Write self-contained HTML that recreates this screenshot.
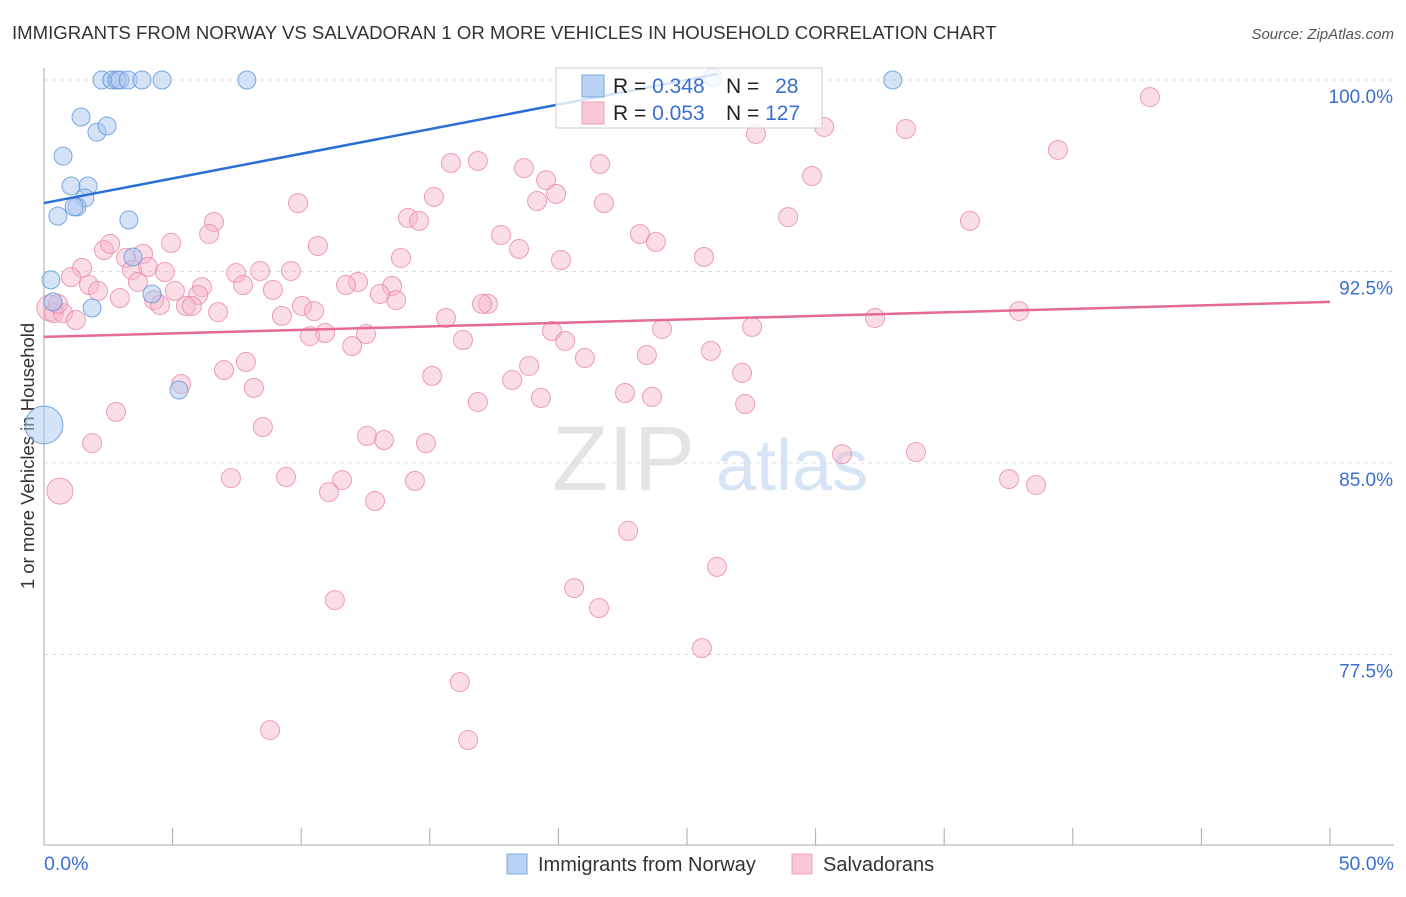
<!DOCTYPE html>
<html><head><meta charset="utf-8"><style>
body{margin:0;background:#fff;font-family:"Liberation Sans",sans-serif;}
svg text{font-family:"Liberation Sans",sans-serif;}
</style></head><body>
<svg id="chart" width="1406" height="892">
<text x="12" y="39" font-size="18.6" fill="#333">IMMIGRANTS FROM NORWAY VS SALVADORAN 1 OR MORE VEHICLES IN HOUSEHOLD CORRELATION CHART</text>
<text x="1394" y="39" font-size="15" fill="#555" font-style="italic" text-anchor="end">Source: ZipAtlas.com</text>
<g>
<text x="552" y="490" font-size="92" fill="#e4e4e4" font-family="Liberation Serif">ZIP</text>
<text x="716" y="490" font-size="72" fill="#d6e4f5">atlas</text>
</g>
<g id="grid"></g>
<g id="axes"></g>
<g id="marks"></g>
<g id="legend-top">
<rect x="556" y="68" width="266" height="60" fill="#fff" fill-opacity="0.8" stroke="#ccc"/>
<rect x="582" y="75" width="22" height="22" fill="#b9d3f5" stroke="#7aa7e0"/>
<text x="613" y="93" font-size="21" fill="#222">R = <tspan fill="#3a6fd0">0.348</tspan></text>
<text x="726" y="93" font-size="21" fill="#222">N = <tspan fill="#3a6fd0" dx="10">28</tspan></text>
<rect x="582" y="102" width="22" height="22" fill="#f9c7d6" stroke="#eda0b8"/>
<text x="613" y="120" font-size="21" fill="#222">R = <tspan fill="#3a6fd0">0.053</tspan></text>
<text x="726" y="120" font-size="21" fill="#222">N = <tspan fill="#3a6fd0">127</tspan></text>
</g>
<g>
<rect x="507" y="854" width="20" height="20" fill="#b9d3f5" stroke="#7aa7e0"/>
<text x="538" y="871" font-size="20" fill="#333">Immigrants from Norway</text>
<rect x="792" y="854" width="20" height="20" fill="#f9c7d6" stroke="#eda0b8"/>
<text x="823" y="871" font-size="20" fill="#333">Salvadorans</text>
</g>
</svg>
<script>
const xTicks=[0,5,10,15,20,25,30,35,40,45,50];
const yTicks=[77.5,85,92.5,100];
const yTickLabels=["77.5%","85.0%","92.5%","100.0%"];
const xEndLabels=["0.0%","50.0%"];
const norwayX=[2.25,2.64,2.84,2.95,3.27,3.81,4.59,7.89,33.0,26.0,1.44,2.06,2.45,0.74,1.05,1.71,1.59,1.28,1.17,0.54,3.30,3.46,4.20,0.27,0.35,1.87,5.25,0];
const norwayY=[100,100,100,100,100,100,100,100,100,100.1,98.55,97.96,98.2,97.02,95.85,95.85,95.38,95.03,95.03,94.67,94.52,93.07,91.62,92.17,91.31,91.07,87.86,86.49];
const norwaySize=[1,1,1,1,1,1,1,1,1,1,1,1,1,1,1,1,1,1,1,1,1,1,1,1,1,1,1,2.1];
const salvX=[43.00,30.33,33.51,27.68,39.42,16.87,15.82,21.62,18.66,19.52,29.86,19.91,19.17,15.16,9.88,21.77,36.00,28.93,14.15,14.58,6.61,6.42,17.77,23.17,23.79,10.65,18.47,2.33,2.57,4.94,3.85,20.10,25.66,13.88,1.48,3.19,4.04,4.70,7.47,8.40,9.60,1.05,3.42,7.74,12.21,11.74,13.53,6.14,1.75,2.10,3.65,5.09,5.99,8.90,2.95,4.28,4.51,5.52,5.75,10.03,13.69,13.06,10.50,17.26,17.03,6.77,9.25,15.63,0.23,0.39,0.74,1.24,0.54,37.91,32.31,27.53,24.03,19.75,12.52,10.93,10.34,16.29,11.98,20.26,25.93,21.03,23.44,7.85,7.00,18.86,27.14,15.09,18.20,5.33,8.16,22.59,23.64,16.87,19.32,27.26,2.80,8.51,12.56,13.22,14.85,1.87,31.03,33.90,7.27,9.41,11.59,14.42,37.52,38.57,11.08,12.87,0.62,22.71,26.17,20.61,21.58,11.31,25.58,16.17,8.79,16.49];
const salvY=[99.33,98.16,98.08,97.89,97.26,96.83,96.75,96.71,96.55,96.08,96.24,95.54,95.26,95.42,95.18,95.18,94.48,94.63,94.60,94.48,94.44,93.97,93.93,93.97,93.66,93.50,93.38,93.34,93.58,93.62,93.19,92.95,93.07,93.03,92.64,93.03,92.68,92.48,92.44,92.52,92.52,92.28,92.56,91.97,92.09,91.97,91.93,91.89,91.97,91.74,92.09,91.74,91.58,91.78,91.46,91.38,91.19,91.15,91.15,91.15,91.38,91.62,90.95,91.23,91.23,90.91,90.76,90.68,91.07,90.87,90.87,90.60,91.23,90.95,90.68,90.33,90.25,90.17,90.05,90.09,89.97,89.82,89.58,89.78,89.39,89.11,89.23,88.96,88.64,88.80,88.53,88.41,88.25,88.09,87.94,87.74,87.59,87.39,87.55,87.31,87.00,86.41,86.06,85.90,85.78,85.78,85.35,85.43,84.41,84.45,84.33,84.30,84.37,84.14,83.86,83.51,83.90,82.34,80.93,80.10,79.32,79.63,77.75,76.42,74.54,74.15];
const salvBig=[68,116];
const norwayTrend=[95.18,0.193,0,26.2];
const salvTrend=[89.94,0.0274,0,50];

const NS="http://www.w3.org/2000/svg";
const X0=44,X1=1330,Y0=80;
const xs=v=>X0+(v/50)*(X1-X0);
const ys=v=>Y0+(100-v)/7.5*191.5;
function mk(tag,attrs,parent){const e=document.createElementNS(NS,tag);for(const k in attrs)e.setAttribute(k,attrs[k]);parent.appendChild(e);return e;}
const grid=document.getElementById('grid'),axes=document.getElementById('axes'),marks=document.getElementById('marks');
yTicks.forEach((t,i)=>{
  const l=mk('line',{x1:X0,x2:1394,y1:ys(t),y2:ys(t),stroke:'#ddd','stroke-dasharray':'4,4'},grid);
  
  
  const tx=mk('text',{x:1393,y:ys(t)+23,'font-size':19,fill:'#3a6fd0','text-anchor':'end'},axes);
  tx.textContent=yTickLabels[i];
  
  
});
const ax=mk('line',{x1:X0,x2:X0,y1:68,y2:845,stroke:'#aaa'},axes);


const bx=mk('line',{x1:X0,x2:1394,y1:845,y2:845,stroke:'#aaa'},axes);


xTicks.forEach(t=>{
  const l=mk('line',{x1:xs(t),x2:xs(t),y1:828,y2:845,stroke:'#aaa'},axes);
  
  
});
const xl0=mk('text',{x:44,y:870,'font-size':19.5,fill:'#3a6fd0'},axes);xl0.textContent=xEndLabels[0];


const xl1=mk('text',{x:1394,y:870,'font-size':19.5,fill:'#3a6fd0','text-anchor':'end'},axes);xl1.textContent=xEndLabels[1];


const yt=mk('text',{x:0,y:0,'font-size':18.5,fill:'#333','text-anchor':'middle',transform:'translate(34,456) rotate(-90)'},axes);
yt.textContent='1 or more Vehicles in Household';



salvX.forEach((x,i)=>{
  const r=salvBig.includes(i)?13:9.5;
  const c=mk('circle',{cx:xs(x),cy:ys(salvY[i]),r:r,fill:'#f6b4c8','fill-opacity':0.45,stroke:'#e888a8','stroke-opacity':0.8,'stroke-width':1},marks);
  
  
});
norwayX.forEach((x,i)=>{
  const c=mk('circle',{cx:xs(x),cy:ys(norwayY[i]),r:9*norwaySize[i],fill:'#a9c8f0','fill-opacity':0.5,stroke:'#5d93da','stroke-opacity':0.8,'stroke-width':1},marks);
  
  
});
const tb=mk('line',{x1:xs(norwayTrend[2]),y1:ys(norwayTrend[0]+norwayTrend[1]*norwayTrend[2]),x2:xs(norwayTrend[3]),y2:ys(norwayTrend[0]+norwayTrend[1]*norwayTrend[3]),stroke:'#2a6fd6','stroke-width':2.5},marks);


const tp=mk('line',{x1:xs(salvTrend[2]),y1:ys(salvTrend[0]+salvTrend[1]*salvTrend[2]),x2:xs(salvTrend[3]),y2:ys(salvTrend[0]+salvTrend[1]*salvTrend[3]),stroke:'#e56a96','stroke-width':2.5},marks);


</script>
</body></html>
